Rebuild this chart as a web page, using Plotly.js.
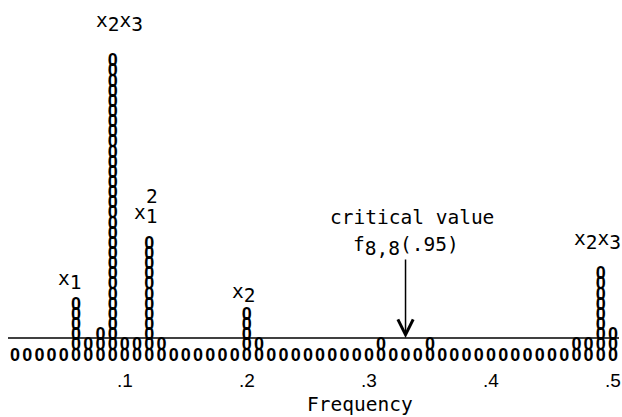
<!DOCTYPE html>
<html>
<head>
<meta charset="utf-8">
<script src="https://cdn.plot.ly/plotly-3.0.1.min.js"></script>
<style>html,body{margin:0;padding:0;background:#fff;}</style>
</head>
<body>
<div id="chart" style="width:622px;height:417px;"></div>
<script>
// Frequencies of the periodogram ordinates (cycles per point)
const frequencies = [0.01,0.02,0.03,0.04,0.05,0.06,0.07,0.08,0.09,0.10,
                     0.11,0.12,0.13,0.14,0.15,0.16,0.17,0.18,0.19,0.20,
                     0.21,0.22,0.23,0.24,0.25,0.26,0.27,0.28,0.29,0.30,
                     0.31,0.32,0.33,0.34,0.35,0.36,0.37,0.38,0.39,0.40,
                     0.41,0.42,0.43,0.44,0.45,0.46,0.47,0.48,0.49,0.50];
// Height of each character column (number of plotted "0" symbols)
const columnCounts = [1,1,1,1,1,6,2,3,30,2,
                      2,12,2,1,1,1,1,1,1,5,
                      2,1,1,1,1,1,1,1,1,1,
                      2,1,1,1,2,1,1,1,1,1,
                      1,1,1,1,1,1,2,2,9,3];
const tickValues = [0.1,0.2,0.3,0.4,0.5];
const tickLabels = ['.1','.2','.3','.4','.5'];
const criticalLevel = 1.77;     // F(8,8) .95 critical value, in plot rows
const criticalFreq = 0.33;

// expand columns into individual symbols
const px = [], py = [];
frequencies.forEach((f, i) => {
  for (let k = 0; k < columnCounts[i]; k++) { px.push(f); py.push(k); }
});

const mono = 'DejaVu Sans Mono';
const fsz = 19.5;
const trace = {
  type: 'scatter', mode: 'text', x: px, y: py,
  text: px.map(() => '<b>0</b>'),
  textposition: 'middle center',
  textfont: {family: 'Liberation Sans', size: 18, color: '#000'},
  hoverinfo: 'skip', showlegend: false
};

// helpers converting pixel placement into axis coordinates for labels
const X = p => (p - 2.8) / 1220.4;
const Y = p => (356 - p) / 10.148;
const big = s => '<span style="font-size:' + fsz + 'px">' + s + '</span>';
const sub = s => '<sub>' + big(s) + '</sub>';
const font = {family: mono, size: fsz, color: '#000'};
const lab = (text, x, y) => ({text, x: X(x), y: Y(y), xref: 'x', yref: 'y',
  showarrow: false, font, xanchor: 'center', yanchor: 'middle'});

const annotations = [
  lab('x' + sub('2') + 'x' + sub('3'), 119, 22),
  lab('x' + sub('1'), 146, 214),
  lab('2', 152, 196),
  lab('x' + sub('1'), 70, 280),
  lab('x' + sub('2'), 244, 293),
  lab('x' + sub('2') + 'x' + sub('3'), 597, 240),
  lab('critical value', 412, 217),
  lab('f' + sub('8,8') + '(.95)', 406, 246),
  {x: criticalFreq, y: criticalLevel, xref: 'x', yref: 'y',
   ax: criticalFreq, ay: Y(258), axref: 'x', ayref: 'y',
   showarrow: true, arrowhead: 5, arrowsize: 2, arrowwidth: 1.5,
   arrowcolor: '#000', text: '', standoff: 0},
  {text: 'Frequency', x: 360/622, y: (367-404)/367, xref: 'paper', yref: 'paper',
   showarrow: false, font, xanchor: 'center', yanchor: 'middle'}
];

const layout = {
  width: 622, height: 417,
  margin: {l: 0, r: 0, t: 0, b: 50},
  paper_bgcolor: '#fff', plot_bgcolor: '#fff',
  xaxis: {range: [X(0), X(622)], showgrid: false, zeroline: false, showline: false,
          tickvals: tickValues, ticktext: tickLabels, ticks: '',
          ticklabeloverflow: 'allow',
          tickfont: {family: 'Liberation Sans', size: 19, color: '#000'},
          fixedrange: true},
  yaxis: {range: [Y(367), Y(0)], visible: false, fixedrange: true},
  shapes: [{type: 'line', xref: 'x', yref: 'y', x0: X(8), x1: X(619),
            y0: criticalLevel, y1: criticalLevel, line: {color: '#000', width: 1.5}}],
  annotations,
  showlegend: false
};

Plotly.newPlot('chart', [trace], layout, {staticPlot: true, displayModeBar: false});
</script>
</body>
</html>
